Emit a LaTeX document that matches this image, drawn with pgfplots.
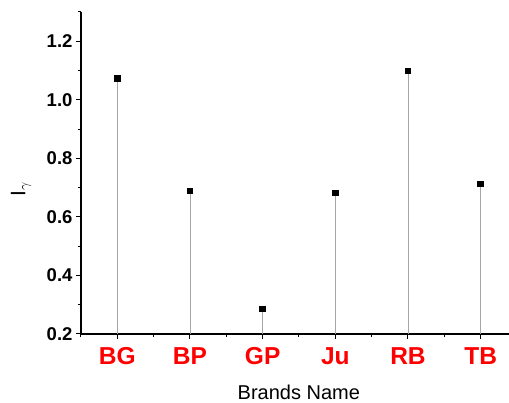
\documentclass[border=0pt]{standalone}
\usepackage{pgfplots}
\pgfplotsset{compat=1.18}
\usepackage{fontspec}
\setmainfont{Liberation Sans}
\definecolor{stem}{RGB}{165,165,165}
\begin{document}
\begin{tikzpicture}
\begin{axis}[
  scale only axis,
  width=428pt, height=322pt,
  xmin=0.5, xmax=6.39,
  ymin=0.2, ymax=1.3,
  axis x line=bottom, axis y line=left,
  axis line style={-, line width=1.1pt, black},
  tick align=outside,
  tick style={line width=1pt, black},
  major tick length=5pt, minor tick length=3pt,
  xtick={1,2,3,4,5,6},
  xticklabels={BG,BP,GP,Ju,RB,TB},
  minor xtick={0.5,1.5,2.5,3.5,4.5,5.5},
  ytick={0.2,0.4,0.6,0.8,1.0,1.2},
  minor ytick={0.3,0.5,0.7,0.9,1.1,1.3},
  /pgf/number format/assume math mode=true,
  yticklabel style={font=\fontsize{18.5}{18.5}\selectfont\bfseries, /pgf/number format/.cd, fixed, fixed zerofill, precision=1},
  xticklabel style={font=\fontsize{24.5}{24.5}\selectfont\bfseries, text=red, yshift=-5pt},
  xlabel={Brands Name},
  xlabel style={font=\fontsize{20}{20}\selectfont, at={(rel axis cs:0.509,0)}, anchor=base, yshift=-66pt},
  ylabel={I$_\gamma$},
  ylabel style={font=\fontsize{21}{21}\selectfont, at={(rel axis cs:0,0.45)}, anchor=center, yshift=60pt},
  clip=false,
]
\addplot[ycomb, color=stem, line width=0.9pt, mark=square*, mark size=2.8pt,
  mark options={fill=black, draw=black, line width=0pt}] coordinates {
  (1,1.073) (2,0.689) (3,0.286) (4,0.681) (5,1.099) (6,0.712)
};
\coordinate (BL) at (rel axis cs:0,0);
\end{axis}
\pgfresetboundingbox
\path ([shift={(-81pt,-69pt)}]BL) rectangle ([shift={(428pt,334pt)}]BL);
\end{tikzpicture}
\end{document}
